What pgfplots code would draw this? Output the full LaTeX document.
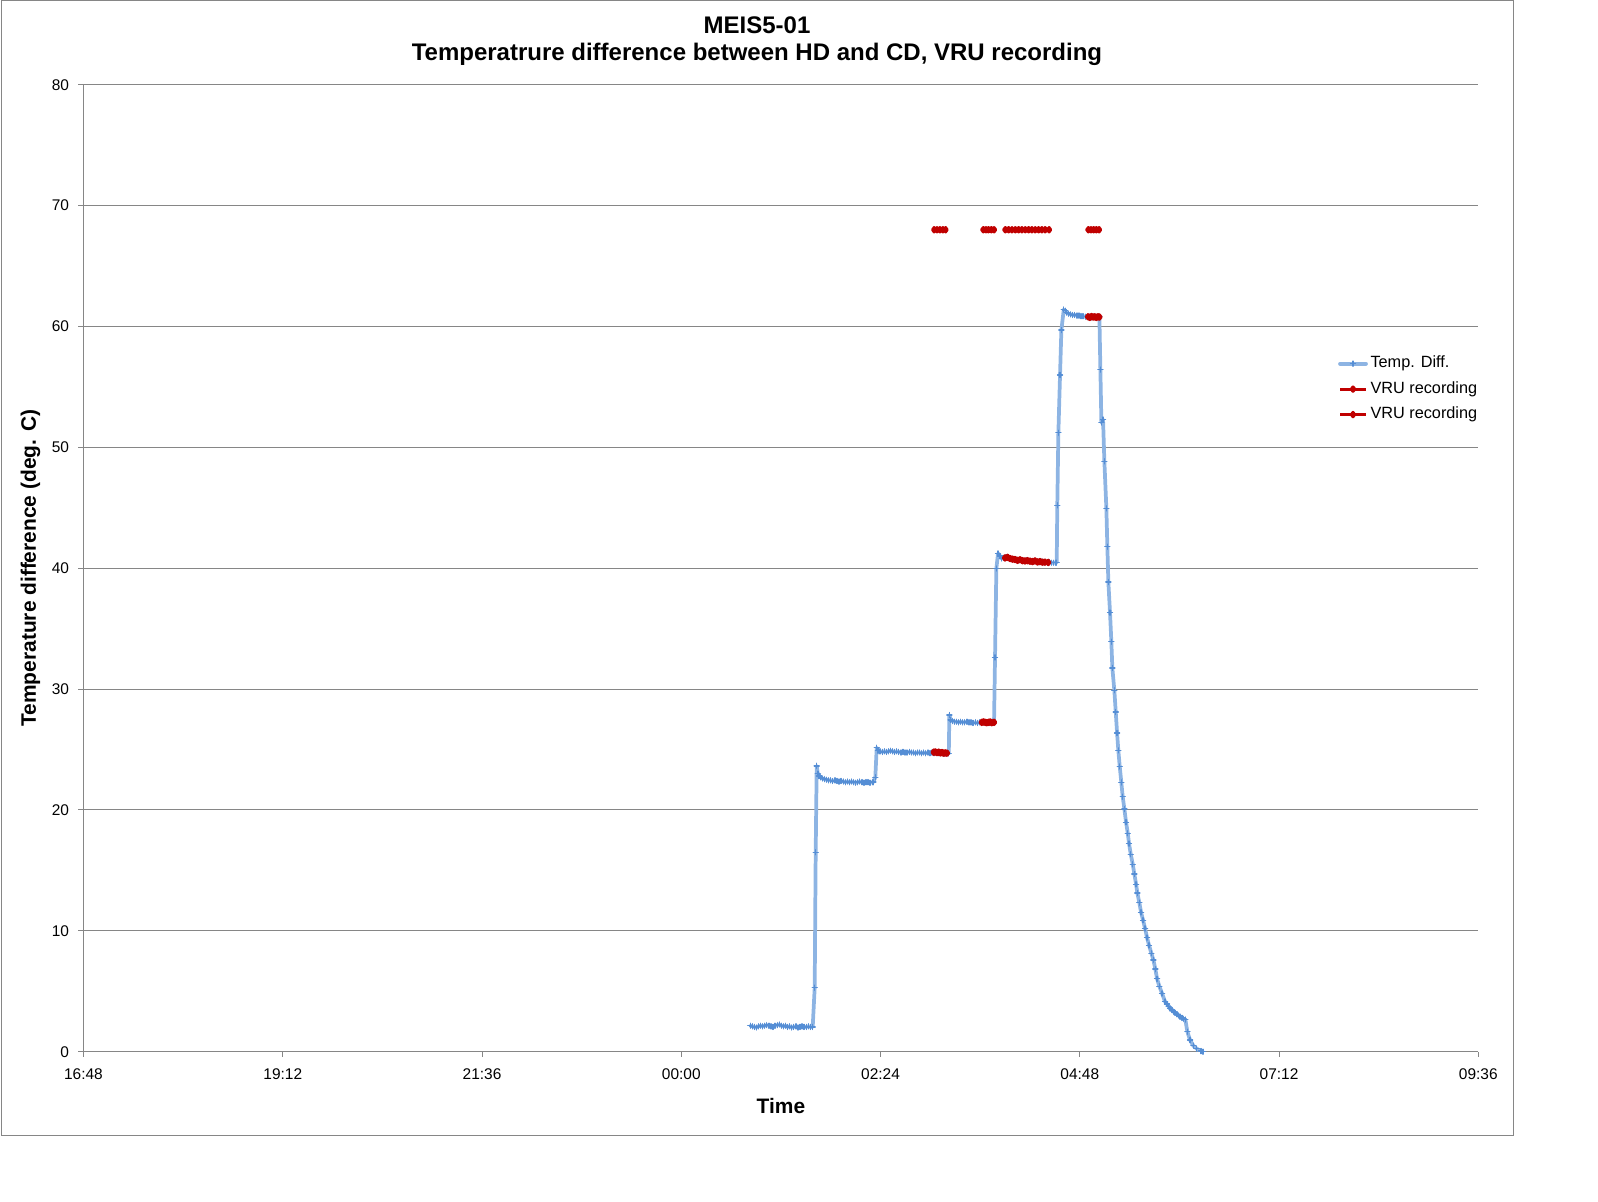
\documentclass[border=0pt]{standalone}
\usepackage{fontspec}
\setmainfont{Liberation Sans}
\usepackage{pgfplots}
\pgfplotsset{compat=1.18}
\usepackage{pgfplotstable}
\definecolor{gridgray}{RGB}{134,134,134}
\definecolor{bluel}{RGB}{141,180,227}
\definecolor{bluem}{RGB}{85,142,213}
\definecolor{vrured}{RGB}{192,0,0}

\pgfplotstableread{
h v
24.830 2.15
24.855 2.10
24.880 2.05
24.905 2.00
24.930 2.10
24.955 2.15
24.980 2.10
25.005 2.15
25.030 2.20
25.055 2.15
25.080 2.10
25.105 2.05
25.130 2.15
25.155 2.20
25.180 2.25
25.205 2.15
25.230 2.10
25.255 2.15
25.280 2.05
25.305 2.10
25.330 2.00
25.355 2.05
25.380 2.10
25.405 2.00
25.430 2.05
25.455 2.10
25.480 2.05
25.505 2.05
25.530 2.10
25.555 2.05
25.583 2.05
25.607 5.30
25.619 16.50
25.631 23.65
25.645 23.00
25.660 22.80
25.680 22.70
25.700 22.60
25.725 22.55
25.750 22.50
25.775 22.45
25.800 22.45
25.825 22.40
25.850 22.45
25.875 22.40
25.900 22.35
25.925 22.40
25.950 22.35
25.975 22.30
26.000 22.35
26.025 22.30
26.050 22.35
26.075 22.30
26.100 22.25
26.125 22.30
26.150 22.35
26.175 22.30
26.200 22.25
26.225 22.30
26.250 22.30
26.275 22.25
26.300 22.30
26.313 22.30
26.337 22.70
26.354 25.15
26.370 24.90
26.395 24.85
26.420 24.80
26.445 24.85
26.470 24.80
26.495 24.85
26.520 24.90
26.545 24.85
26.570 24.80
26.595 24.85
26.620 24.80
26.645 24.75
26.670 24.80
26.695 24.75
26.720 24.75
26.745 24.80
26.770 24.75
26.795 24.75
26.820 24.70
26.845 24.75
26.870 24.75
26.895 24.70
26.920 24.75
26.945 24.70
26.970 24.75
26.995 24.70
27.020 24.75
27.045 24.70
27.070 24.75
27.095 24.70
27.120 24.75
27.145 24.70
27.170 24.65
27.195 24.70
27.222 24.68
27.229 27.85
27.245 27.45
27.265 27.35
27.290 27.30
27.315 27.30
27.340 27.25
27.365 27.30
27.390 27.25
27.415 27.25
27.440 27.30
27.465 27.25
27.490 27.25
27.515 27.20
27.540 27.25
27.565 27.20
27.590 27.25
27.615 27.20
27.640 27.25
27.665 27.20
27.690 27.25
27.715 27.20
27.740 27.25
27.767 27.22
27.779 32.62
27.795 39.98
27.815 41.22
27.840 41.00
27.860 40.80
27.885 40.85
27.910 40.90
27.935 40.85
27.960 40.80
27.985 40.75
28.010 40.75
28.035 40.70
28.060 40.65
28.085 40.70
28.110 40.65
28.135 40.60
28.160 40.65
28.185 40.60
28.210 40.60
28.235 40.55
28.260 40.60
28.285 40.55
28.310 40.50
28.335 40.55
28.360 40.50
28.385 40.50
28.410 40.45
28.435 40.50
28.460 40.45
28.485 40.45
28.510 40.45
28.522 40.46
28.529 45.20
28.542 51.20
28.562 55.99
28.578 59.70
28.607 61.40
28.625 61.30
28.643 61.15
28.665 61.05
28.690 61.00
28.715 60.95
28.740 60.95
28.765 60.90
28.790 60.90
28.815 60.85
28.840 60.85
28.865 60.80
28.890 60.80
28.915 60.80
28.940 60.75
28.965 60.80
28.990 60.75
29.015 60.80
29.036 60.80
29.048 56.43
29.060 52.05
29.080 52.30
29.096 48.84
29.120 44.95
29.132 41.78
29.144 38.85
29.164 36.32
29.180 33.92
29.192 31.75
29.216 29.90
29.233 28.10
29.249 26.37
29.264 24.93
29.281 23.60
29.300 22.28
29.317 21.10
29.337 20.07
29.357 18.99
29.378 18.07
29.393 17.22
29.414 16.34
29.438 15.50
29.457 14.70
29.478 13.85
29.493 13.13
29.517 12.33
29.538 11.53
29.562 10.88
29.586 10.20
29.610 9.44
29.634 8.80
29.662 8.15
29.686 7.60
29.710 6.83
29.731 6.03
29.758 5.42
29.791 4.82
29.827 4.14
29.850 3.95
29.870 3.75
29.887 3.58
29.910 3.45
29.930 3.30
29.948 3.22
29.970 3.10
29.990 3.00
30.008 2.90
30.030 2.80
30.050 2.72
30.071 2.66
30.096 1.65
30.128 0.97
30.168 0.49
30.209 0.25
30.260 0.05
30.285 0.00
}\tempdiff

\pgfplotstableread{
h v
27.040 24.78
27.060 24.80
27.080 24.75
27.100 24.78
27.120 24.72
27.140 24.75
27.160 24.70
27.180 24.72
27.200 24.70
27.210 nan
27.620 27.25
27.640 27.28
27.660 27.25
27.680 27.22
27.700 27.25
27.720 27.28
27.740 27.22
27.767 27.25
27.800 nan
27.900 40.85
27.930 40.90
27.960 40.80
27.990 40.75
28.020 40.72
28.050 40.65
28.080 40.70
28.110 40.62
28.140 40.60
28.170 40.62
28.200 40.58
28.230 40.55
28.260 40.60
28.290 40.52
28.320 40.55
28.350 40.50
28.380 40.50
28.420 40.48
28.600 nan
28.900 60.80
28.920 60.75
28.940 60.82
28.960 60.78
28.980 60.80
29.000 60.75
29.020 60.80
29.036 60.78
}\vruA

\pgfplotstableread{
h v
27.046 68
27.080 68
27.115 68
27.150 68
27.183 68
27.300 nan
27.638 68
27.670 68
27.700 68
27.735 68
27.767 68
27.800 nan
27.903 68
27.943 68
27.983 68
28.023 68
28.063 68
28.103 68
28.143 68
28.183 68
28.223 68
28.263 68
28.303 68
28.343 68
28.383 68
28.430 68
28.600 nan
28.903 68
28.935 68
28.967 68
29.000 68
29.032 68
}\vruB

\begin{document}
\begin{tikzpicture}
\useasboundingbox (0,0) rectangle (1198.5pt,-901.5pt);
\draw[gridgray, line width=0.75pt] (0.75pt,-0.75pt) rectangle (1134.975pt,-851.475pt);
\node[anchor=base, inner sep=0pt, font=\bfseries\fontsize{18}{20}\selectfont] at (567.75pt,-25.5pt) {MEIS5-01};
\node[anchor=base, inner sep=0pt, font=\bfseries\fontsize{18}{20}\selectfont] at (567.75pt,-45.75pt) {Temperatrure difference between HD and CD, VRU recording};
\begin{axis}[
  at={(62.625pt,-788.775pt)}, anchor=south west,
  scale only axis, width=1046.1pt, height=725.25pt,
  xmin=16.8, xmax=33.6, ymin=0, ymax=80,
  axis x line=bottom, axis y line=left,
  axis line style={gridgray, line width=0.75pt, -},
  xtick={16.8,19.2,21.6,24,26.4,28.8,31.2,33.6},
  xticklabels={16:48,19:12,21:36,00:00,02:24,04:48,07:12,09:36},
  ytick={0,10,20,30,40,50,60,70,80},
  ymajorgrids, grid style={gridgray, line width=0.75pt},
  tick align=outside, major tick length=3.75pt,
  tick style={gridgray, line width=0.75pt},
  /pgf/number format/assume math mode=true,
  xticklabel style={font=\fontsize{11.6}{13}\selectfont, anchor=base, inner sep=0pt, yshift=-17.45pt},
  yticklabel style={font=\fontsize{11.6}{13}\selectfont, anchor=east, inner sep=0pt, xshift=-6.9pt},
  xlabel={Time},
  ylabel={Temperature difference (deg. C)},
  xlabel style={font=\bfseries\fontsize{15.7}{18}\selectfont, at={(axis description cs:0.5,-0.0644)}, anchor=base, inner sep=0pt},
  ylabel style={font=\bfseries\fontsize{15.7}{18}\selectfont, at={(axis description cs:-0.0379,0.5)}, anchor=center, inner sep=0pt},
  unbounded coords=jump,
  legend style={at={(axis description cs:0.8995,0.7198)}, anchor=north west, draw=none, fill=none, inner sep=0pt, outer sep=0pt, row sep=7.1pt, font=\fontsize{12.2}{14}\selectfont, nodes={inner sep=0pt, text height=9pt, text depth=3pt}},
  legend cell align=left,
  legend image code/.code={\draw[mark repeat=2,mark phase=2,#1] plot coordinates {(0pt,0pt) (9.75pt,0pt) (19.5pt,0pt)}; \path (21.5pt,0pt);},
]
\addplot[color=bluel, line width=2.8pt, line join=round, line cap=round, mark=+, mark size=1.9pt, mark options={bluem, line width=1pt, solid}] table[x=h, y=v] {\tempdiff};
\addlegendentry{Temp. Diff.}
\addplot[color=vrured, line width=2.4pt, line join=round, mark=diamond*, mark size=1.6pt, mark options={vrured}] table[x=h, y=v] {\vruA};
\addlegendentry{VRU recording}
\addplot[color=vrured, line width=2.2pt, line join=round, mark=diamond*, mark size=1.7pt, mark options={vrured}] table[x=h, y=v] {\vruB};
\addlegendentry{VRU recording}
\end{axis}
\end{tikzpicture}
\end{document}
